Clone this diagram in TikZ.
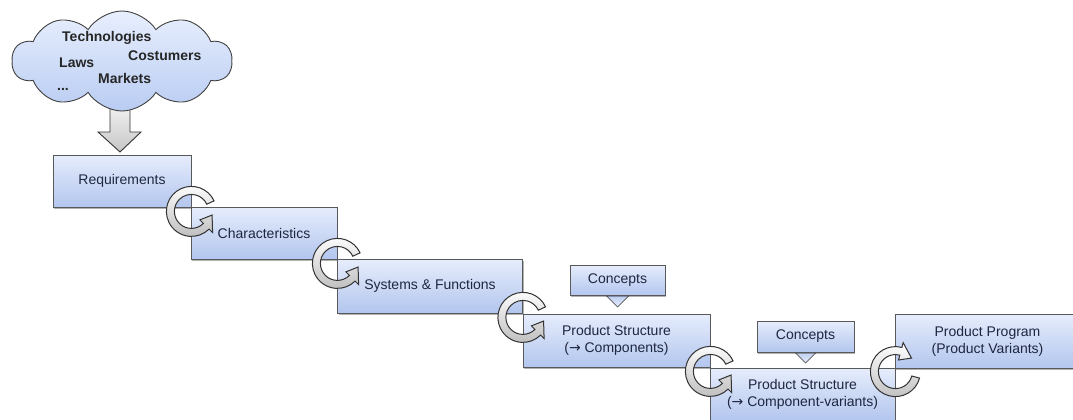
\documentclass[tikz,border=0pt]{standalone}
\usepackage{fontspec}
\setmainfont{Liberation Sans}
\newfontfamily\arrowfont{DejaVu Sans}
\usetikzlibrary{shapes.symbols,shadows}

\definecolor{boxtop}{HTML}{E6EDFC}
\definecolor{boxbot}{HTML}{B3C6EE}
\definecolor{cloudtop}{HTML}{E8EFFE}
\definecolor{cloudbot}{HTML}{B9CCF2}
\definecolor{edge}{HTML}{595959}
\definecolor{navy}{HTML}{1E2640}

\tikzset{
	box/.style={rectangle, draw=edge, line width=0.8pt, top color=boxtop, bottom color=boxbot,
		text=navy, font=\fontsize{14}{17}\selectfont, align=center, inner sep=0pt,
		drop shadow={shadow xshift=1pt, shadow yshift=-1.5pt, opacity=0.3, fill=black}},
	tri/.style={draw=edge, line width=0.7pt, top color=boxbot, bottom color=boxtop},
	ring/.style={draw=black!80, line width=1pt, top color=white, bottom color=gray!50},
	blockarrow/.style={draw=black!80, line width=0.9pt, top color=gray!10, bottom color=gray!45},
	cloudtext/.style={font=\bfseries\fontsize{14}{17}\selectfont, text=black!85, inner sep=0pt, anchor=base west}
}

% circular arrow at a box corner: start angle, end of ring, tip of arrow
\newcommand\cycarrow[4]{\draw[ring, shift={(#1)}, yshift=-4pt] (#2:25) arc (#2:#3:25) -- (#3:30) -- (#4:21) -- (#3:12) -- (#3:17) arc (#3:#2:17) -- cycle;}

\begin{document}
\begin{tikzpicture}[x=1pt, y=1pt]
	\useasboundingbox (0,0) rectangle (1073,-420);
	
	\draw[blockarrow] (110,-105) -- (130,-105) -- (130,-132) -- (141,-132) -- (120,-152) -- (98,-132) -- (110,-132) -- cycle;
	
	\node[cloud, cloud puffs=10, cloud puff arc=115, aspect=2.1, draw=black!75, line width=0.9pt,
		top color=cloudtop, bottom color=cloudbot, minimum width=220pt, minimum height=100pt,
		inner sep=0pt] (env) at (122,-61) {};
	\node[cloudtext] (tech) at (62,-42) {Technologies};
	\node[cloudtext] (cost) at (128,-60) {Costumers};
	\node[cloudtext] (laws) at (59,-67) {Laws};
	\node[cloudtext] (mark) at (98,-83) {Markets};
	\node[cloudtext] (etc) at (57,-90) {...};
	
	\node[box, minimum width=138pt, minimum height=52pt] (req) at (122,-181) {Requirements};
	\node[box, minimum width=146pt, minimum height=52pt] (char) at (264,-233) {Characteristics};
	\node[box, minimum width=185pt, minimum height=54pt] (sys) at (430,-286) {Systems \& Functions};
	\node[box, minimum width=187pt, minimum height=53pt] (ps1) at (616.5,-340.5) {Product Structure\\({\arrowfont →} Components)};
	\node[box, minimum width=185pt, minimum height=52pt] (ps2) at (802.5,-394) {Product Structure\\({\arrowfont →} Component-variants)};
	\node[box, minimum width=185pt, minimum height=54pt] (prog) at (987.5,-341) {Product Program\\(Product Variants)};
	
	\draw[tri] (603.5,-293) -- (631.5,-293) -- (617.5,-307) -- cycle;
	\node[box, minimum width=95pt, minimum height=30pt] (con1) at (617.5,-280) {Concepts};
	\draw[tri] (791.5,-349) -- (819.5,-349) -- (805.5,-363) -- cycle;
	\node[box, minimum width=97pt, minimum height=31pt] (con2) at (805.5,-336.5) {Concepts};
	
	\cycarrow{req.south east}{25}{315}{350}
	\cycarrow{char.south east}{25}{315}{350}
	\cycarrow{sys.south east}{25}{315}{350}
	\cycarrow{ps1.south east}{25}{315}{350}
	\cycarrow{ps2.north east}{-15}{-285}{-320}
\end{tikzpicture}
\end{document}
